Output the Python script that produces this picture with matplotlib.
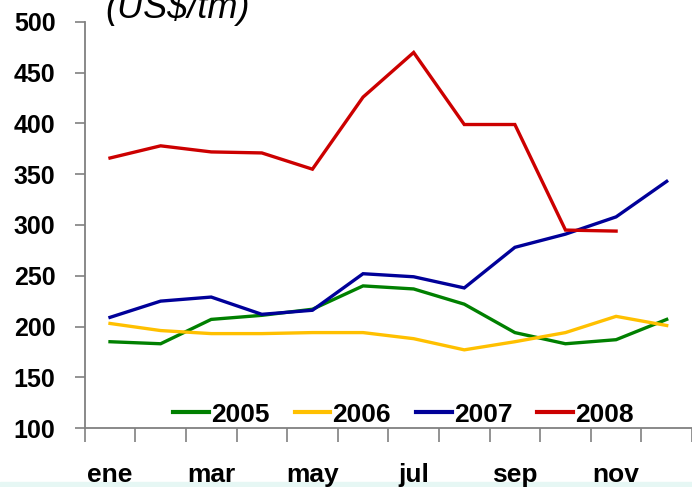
import matplotlib
matplotlib.use('Agg')
import matplotlib.pyplot as plt
from matplotlib.patches import Rectangle

# datos mensuales (US$/tm)
meses = ['ene', 'feb', 'mar', 'abr', 'may', 'jun', 'jul', 'ago', 'sep', 'oct', 'nov', 'dic']
v2005 = [185, 183, 207, 211, 217, 240, 237, 222, 194, 183, 187, 207]
v2006 = [203, 196, 193, 193, 194, 194, 188, 177, 185, 194, 210, 201]
v2007 = [209, 225, 229, 212, 216, 252, 249, 238, 278, 291, 308, 343]
v2008 = [366, 378, 372, 371, 355, 426, 470, 399, 399, 295, 294]

series = [('2005', v2005, '#008000'),
          ('2006', v2006, '#FFC000'),
          ('2007', v2007, '#000099'),
          ('2008', v2008, '#CC0000')]

plt.rcParams['font.family'] = ['Liberation Sans', 'DejaVu Sans']

fig = plt.figure(figsize=(6.92, 4.87), dpi=100)
ax = fig.add_axes([84.7 / 692, 1 - 428 / 487, (692 - 84.7) / 692, 406 / 487])

for nombre, vals, color in series:
    ax.plot(range(len(vals)), vals, color=color, lw=2.4, label=nombre,
            solid_joinstyle='miter', clip_on=False)

ax.set_ylim(100, 500)
ax.set_yticks(range(100, 501, 50))
ax.set_xlim(-0.5, 11.27)

# etiquetas cada dos meses, marcas en los limites
ax.set_xticks(range(0, 12, 2))
ax.set_xticklabels(meses[::2])
ax.set_xticks([i - 0.5 for i in range(13)], minor=True)
ax.tick_params(axis='x', which='major', length=0, pad=25, labelsize=19)
ax.tick_params(axis='x', which='minor', length=10, width=1.2, color='#808080')
ax.tick_params(axis='y', length=7, width=1.2, color='#808080', pad=14, labelsize=18)
for lab in ax.get_xticklabels() + ax.get_yticklabels():
    lab.set_fontweight('bold')

for s in ['top', 'right']:
    ax.spines[s].set_visible(False)
for s in ['left', 'bottom']:
    ax.spines[s].set_color('#808080')
    ax.spines[s].set_linewidth(1.3)

leg = ax.legend(loc='lower center', bbox_to_anchor=(0.525, -0.055), ncol=4, frameon=False,
                handlelength=1.35, handletextpad=0.08, columnspacing=0.95,
                prop={'weight': 'bold', 'size': 19})
for ln in leg.get_lines():
    ln.set_linewidth(3)

fig.text(105 / 692, 1 - 18 / 487, '(US$/tm)', fontsize=26, style='italic',
         va='baseline', ha='left')

# franja inferior
fig.patches.append(Rectangle((0, 0), 1, 5 / 487, transform=fig.transFigure,
                             color='#e6f7f4', zorder=-1))

fig.savefig('out.png', dpi=100)
